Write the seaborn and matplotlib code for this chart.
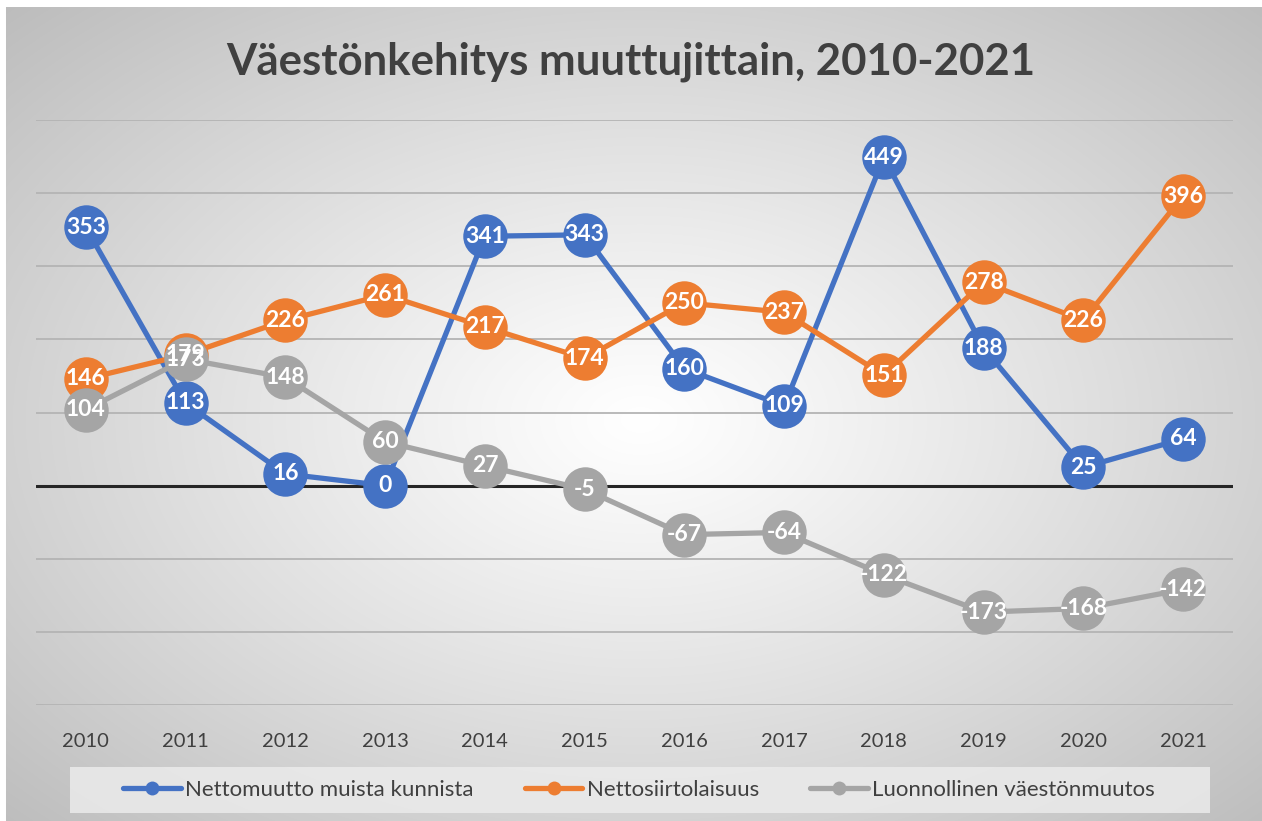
import numpy as np
import pandas as pd
import matplotlib
matplotlib.use("Agg")
import matplotlib.pyplot as plt
from matplotlib.patches import Rectangle
from matplotlib.lines import Line2D
import seaborn as sns

years = [2010, 2011, 2012, 2013, 2014, 2015, 2016, 2017, 2018, 2019, 2020, 2021]
nettomuutto = [353, 113, 16, 0, 341, 343, 160, 109, 449, 188, 25, 64]
nettosiirto = [146, 179, 226, 261, 217, 174, 250, 237, 151, 278, 226, 396]
luonnollinen = [104, 173, 148, 60, 27, -5, -67, -64, -122, -173, -168, -142]
series_names = ["Nettomuutto muista kunnista", "Nettosiirtolaisuus", "Luonnollinen väestönmuutos"]
colors = ["#4472C4", "#ED7D31", "#A5A5A5"]
title = "Väestönkehitys muuttujittain, 2010-2021"

sns.set_theme(style="white")
plt.rcParams["font.family"] = ["Lato", "DejaVu Sans"]

W, H = 1262, 821
fig = plt.figure(figsize=(W / 100, H / 100), dpi=100)

# background gradient
bg = fig.add_axes([0, 0, 1, 1], zorder=-10)
yy, xx = np.mgrid[0:H, 0:W]
cx, cy = 640, 420
r = np.sqrt(((xx - cx) / (W / 2)) ** 2 + ((yy - cy) / (H / 2)) ** 2) / np.sqrt(2)
val = 1.0 - 0.26 * np.clip(r, 0, 1) ** 1.1
img = np.dstack([val, val, val])
img[:8, :, :] = 1.0
img[:, :6, :] = 1.0
bg.imshow(img, aspect="auto", extent=[0, 1, 0, 1], origin="upper", interpolation="bilinear")
bg.set_axis_off()

ax = fig.add_axes([36 / W, 1 - 705 / H, (1233 - 36) / W, (705 - 120) / H])
ax.set_facecolor("none")

df = pd.DataFrame({
    "year": years * 3,
    "value": nettomuutto + nettosiirto + luonnollinen,
    "series": [series_names[0]] * 12 + [series_names[1]] * 12 + [series_names[2]] * 12,
})

for i, name in enumerate(series_names):
    sub = df[df["series"] == name]
    sns.lineplot(data=sub, x="year", y="value", ax=ax, color=colors[i], linewidth=3.8,
                 marker="o", markersize=32, markeredgewidth=0, sort=False, legend=False,
                 zorder=3 + i)

for i, name in enumerate(series_names):
    sub = df[df["series"] == name]
    for x, v in zip(sub["year"], sub["value"]):
        ax.text(x, v, f"{v}", ha="center", va="center", color="white", fontsize=16.5,
                fontweight="bold", zorder=10)

ax.set_xlim(2009.5, 2021.5)
ax.set_ylim(-300, 500)
for g in range(-300, 501, 100):
    if g == 0:
        continue
    ax.axhline(g, color="#b4b4b4", linewidth=1.3, zorder=1)
ax.axhline(0, color="#262626", linewidth=2.2, zorder=2)
ax.set_xticks(years)
ax.set_xticklabels([str(y) for y in years], fontsize=14.5, color="#404040")
ax.tick_params(axis="x", length=0, pad=20)
ax.set_yticks([])
ax.set_xlabel("")
ax.set_ylabel("")
for s in ax.spines.values():
    s.set_visible(False)

fig.text(0.5, 1 - 62 / H, title, ha="center", va="center", fontsize=31.5,
         fontweight="bold", color="#404040")

# legend box
fig.patches.append(Rectangle((70 / W, 1 - 813 / H), (1210 - 70) / W, 46 / H,
                             transform=fig.transFigure, facecolor="#ebebeb",
                             edgecolor="none", alpha=0.85, zorder=0))
handles = [Line2D([0], [0], color=c, linewidth=3.8, marker="o", markersize=10,
                  markeredgewidth=0) for c in colors]
fig.legend(handles, series_names, loc="center", bbox_to_anchor=(639 / W, 1 - 790 / H),
           ncol=3, frameon=False, fontsize=16, handlelength=2.6, handletextpad=0.2,
           columnspacing=2.3, labelcolor="#404040")

fig.savefig("out.png", dpi=100)
